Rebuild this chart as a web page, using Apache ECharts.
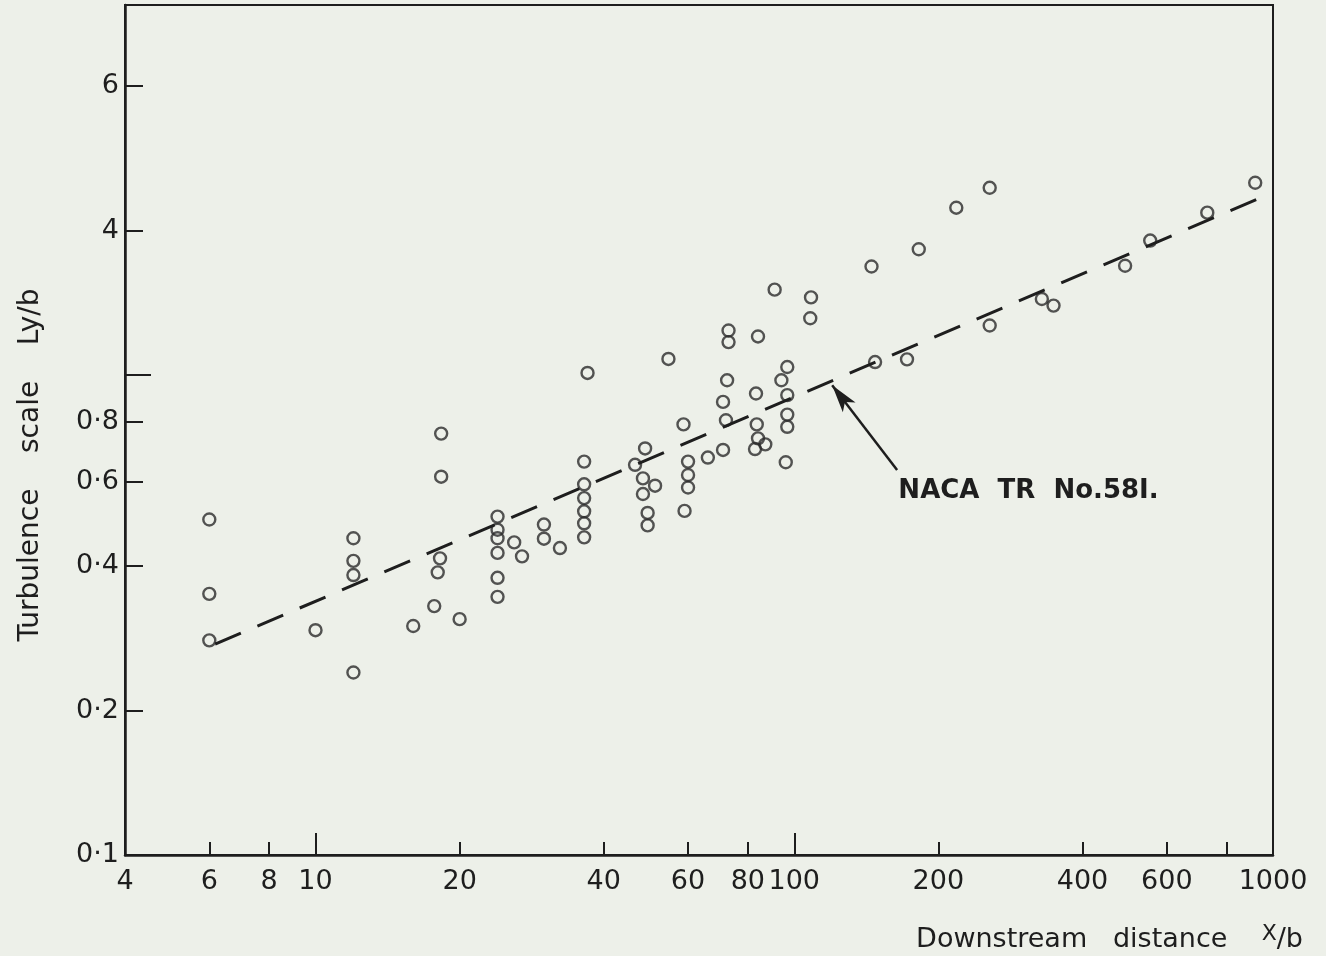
<!DOCTYPE html>
<html>
<head>
<meta charset="utf-8">
<script src="https://cdn.jsdelivr.net/npm/echarts@6/dist/echarts.min.js"></script>
<style>
  html, body { margin: 0; padding: 0; background: #edf0e9; }
  #chart { width: 1326px; height: 956px; }
</style>
</head>
<body>
<div id="chart"></div>
<script>
// measured points, [x/b, Ly/b] in the chart's own units
const observed = [
  [6, 0.50], [6, 0.35], [6, 0.28],
  [10, 0.294],
  [12, 0.24], [12, 0.383], [12, 0.41], [12, 0.457],
  [16, 0.30], [17.7, 0.33], [18, 0.388], [18.2, 0.415], [18.3, 0.614], [18.3, 0.755],
  [20, 0.31],
  [24, 0.507], [24, 0.476], [24, 0.457], [24, 0.426], [24, 0.378], [24, 0.345],
  [26, 0.448], [27, 0.419], [30, 0.488], [30, 0.456], [32.4, 0.436],
  [37, 1.01],
  [36.4, 0.66], [36.4, 0.592], [36.4, 0.554], [36.4, 0.52], [36.4, 0.491], [36.4, 0.459],
  [46.5, 0.65], [48.8, 0.703], [48.3, 0.609], [51.2, 0.588], [48.3, 0.565], [49.4, 0.516], [49.4, 0.486],
  [54.6, 1.08], [58.7, 0.789], [59, 0.521], [60, 0.66], [60, 0.619], [60, 0.583],
  [66, 0.673], [71, 0.698], [72, 0.805], [71, 0.879], [72.4, 0.975], [72.9, 1.238], [72.9, 1.171],
  [82.8, 0.701], [84, 0.738], [87, 0.717], [83.5, 0.789], [83.2, 0.915], [84, 1.203], [91, 1.506],
  [96, 0.658], [96.7, 0.78], [96.7, 0.827], [96.7, 0.908], [94, 0.975], [96.7, 1.039],
  [108, 1.313], [108.4, 1.451],
  [145, 1.683], [147.5, 1.064], [172, 1.078], [182, 1.828], [218, 2.231], [256, 2.455], [256, 1.268],
  [329, 1.44], [348, 1.395], [491, 1.689], [554, 1.906], [729, 2.179], [918, 2.515]
];
// NACA TR 581 line
const nacaLine = [[6.17, 0.275], [1000, 2.40]];
const arrowTail = [164, 0.634];
const arrowTip = [120, 0.952];
const nacaText = [165, 0.572];

const xMinorTicks = [6, 8, 20, 40, 60, 80, 200, 400, 600, 800];
const xMajorTicks = [10, 100];
const xLabelValues = [4, 6, 8, 10, 20, 40, 60, 80, 100, 200, 400, 600, 1000];
const yMinorTicks = [0.2, 0.4, 0.6, 0.8, 2, 4];
const yMajorTicks = [1];
const yLabelValues = [0.1, 0.2, 0.4, 0.6, 0.8, 2, 4];
const yLabelText = ['0·1', '0·2', '0·4', '0·6', '0·8', '4', '6'];

const ink = '#1e1e1e';
const font = 'DejaVu Sans';

const chart = echarts.init(document.getElementById('chart'));

const xBase = {
  type: 'log', logBase: 10, min: 4, max: 1000, position: 'bottom',
  splitLine: { show: false }
};
const yBase = {
  type: 'log', logBase: 10, min: 0.1, max: 5.9, position: 'left',
  splitLine: { show: false }
};

chart.setOption({
  backgroundColor: '#edf0e9',
  animation: false,
  grid: {
    left: 125, right: 53, top: 5, bottom: 101, outerBoundsMode: 'none',
    show: true, borderColor: ink, borderWidth: 2
  },
  xAxis: [
    Object.assign({}, xBase, {
      axisLine: { show: true, lineStyle: { color: ink, width: 2.5 } },
      axisTick: { show: true, inside: true, length: 13, customValues: xMinorTicks, lineStyle: { color: ink, width: 2 } },
      axisLabel: {
        show: true, customValues: xLabelValues, margin: 13, color: ink,
        fontFamily: font, fontSize: 27, formatter: (v) => String(Math.round(v))
      },
      name: '{a|Downstream   distance}    {s|X}{a|/b}',
      nameLocation: 'end', nameGap: 30,
      nameTextStyle: {
        fontFamily: font, fontSize: 27, color: ink, align: 'right', verticalAlign: 'top', padding: [68, 0, 0, 0],
        rich: {
          a: { fontFamily: font, fontSize: 27, color: ink },
          s: { fontFamily: font, fontSize: 22, color: ink, padding: [0, 0, 12, 0] }
        }
      }
    }),
    Object.assign({}, xBase, {
      axisLine: { show: false },
      axisTick: { show: true, inside: true, length: 22, customValues: xMajorTicks, lineStyle: { color: ink, width: 2 } },
      axisLabel: { show: false }
    })
  ],
  yAxis: [
    Object.assign({}, yBase, {
      axisLine: { show: true, lineStyle: { color: ink, width: 2.5 } },
      axisTick: { show: true, inside: true, length: 18, customValues: yMinorTicks, lineStyle: { color: ink, width: 2 } },
      axisLabel: {
        show: true, customValues: yLabelValues, margin: 6, color: ink,
        fontFamily: font, fontSize: 27,
        formatter: (v) => {
          const i = yLabelValues.findIndex((t) => Math.abs(t - v) < 1e-6);
          return i >= 0 ? yLabelText[i] : '';
        }
      },
      name: 'Turbulence    scale    Ly/b',
      nameLocation: 'middle', nameGap: 80, nameRotate: 90,
      nameTextStyle: { fontFamily: font, fontSize: 28, color: ink, padding: [0, 70, 0, 0] }
    }),
    Object.assign({}, yBase, {
      axisLine: { show: false },
      axisTick: { show: true, inside: true, length: 26, customValues: yMajorTicks, lineStyle: { color: ink, width: 2 } },
      axisLabel: { show: false }
    })
  ],
  series: [
    {
      type: 'line',
      xAxisIndex: 0, yAxisIndex: 0,
      data: nacaLine,
      showSymbol: false, symbol: 'none',
      lineStyle: { color: ink, width: 3, type: [28, 18] },
      markLine: {
        silent: true,
        symbol: ['none', 'arrow'], symbolSize: [12, 28],
        lineStyle: { color: ink, width: 2.5, type: 'solid' },
        label: { show: false },
        data: [[{ coord: arrowTail }, { coord: arrowTip }]]
      },
      markPoint: {
        silent: true,
        symbol: 'circle', symbolSize: 0,
        label: {
          show: true, position: 'right', distance: 0, formatter: 'NACA  TR  No.58I.',
          fontFamily: font, fontSize: 26, fontWeight: 'bold', color: ink
        },
        data: [{ coord: nacaText }]
      }
    },
    {
      type: 'scatter',
      xAxisIndex: 0, yAxisIndex: 0,
      data: observed,
      symbol: 'circle', symbolSize: 12,
      itemStyle: { color: 'rgba(0,0,0,0)', borderColor: '#2a2a2a', borderWidth: 2.4 }
    }
  ]
});
</script>
</body>
</html>
